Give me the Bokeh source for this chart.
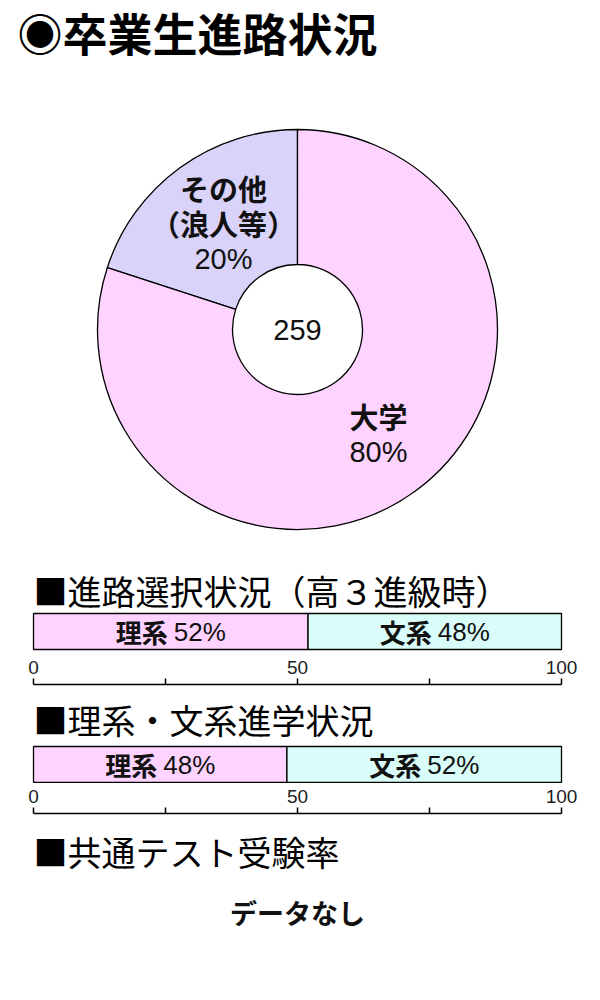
import numpy as np
from bokeh.core.properties import value
from bokeh.embed import file_html
from bokeh.layouts import column
from bokeh.models import FixedTicker, LinearAxis, Range1d
from bokeh.plotting import figure
from bokeh.resources import INLINE

# texty
title = "◉卒業生進路状況"
heading_choice = "■進路選択状況（高３進級時）"
heading_entry = "■理系・文系進学状況"
heading_test = "■共通テスト受験率"
no_data = "データなし"

# kruhový graf: počet absolventů a podíly
total_students = 259
course_labels = ["その他\n（浪人等）", "大学"]
course_share = [20, 80]
course_colors = ["#D9D3F9", "#FFD3FF"]

# pruhové grafy: podíly 理系 / 文系
track_names = ["理系", "文系"]
track_colors = ["#FFD3FF", "#D9FDF8"]
choice_share = [52, 48]
entry_share = [48, 52]

axis_ticks = [0, 25, 50, 75, 100]
axis_hidden = {25: "", 75: ""}

FONT_JP = value("Noto Sans CJK JP")
FONT_NUM = value("Liberation Sans")

W = 584
K = 5.28            # pixely na 1 %
X0 = -33 / K
x_range = Range1d(X0, X0 + W / K)


def px(x):
    # pixel v okně -> hodnota na ose x
    return X0 + x / K


def make_fig(height, top):
    p = figure(width=W, height=height, x_range=x_range,
               y_range=Range1d(height - top, 0),
               x_axis_location=None, y_axis_location=None,
               toolbar_location=None, output_backend="svg",
               min_border=0, min_border_top=top)
    p.outline_line_color = None
    p.grid.visible = False
    return p


def add_axis(p):
    ax = LinearAxis(ticker=FixedTicker(ticks=axis_ticks),
                    major_label_overrides=axis_hidden, bounds=(0, 100))
    ax.major_tick_in = 0
    ax.major_tick_out = 6
    ax.minor_tick_in = 0
    ax.minor_tick_out = 0
    ax.axis_line_width = 1.5
    ax.major_tick_line_width = 1.5
    ax.major_label_standoff = 5
    ax.major_label_text_font = "Liberation Sans"
    ax.major_label_text_font_size = "19px"
    ax.major_label_text_color = "#222222"
    p.add_layout(ax, "above")


def add_bar(p, shares, y_mid):
    shares = np.array(shares)
    right = np.cumsum(shares)
    left = right - shares
    mid = (left + right) / 2
    p.hbar(y=y_mid, left=left, right=right, height=36,
           fill_color=track_colors, line_color="black", line_width=1.3)
    p.text(x=mid - 3 / K, y=y_mid, text=track_names,
           text_font=FONT_JP, text_font_style="bold",
           text_font_size="26px", text_align="right",
           text_baseline="middle", text_color="#111111")
    p.text(x=mid + 3 / K, y=y_mid, text=[f"{s}%" for s in shares],
           text_font=FONT_NUM, text_font_size="26px", text_align="left",
           text_baseline="middle", text_color="#111111")


# --- titulek, kruhový graf a první pruh
p1 = make_fig(654, 0)
p1.text(x=[px(17)], y=[32], text=[title], text_font=FONT_JP,
        text_font_style="bold", text_font_size="45px",
        text_baseline="middle", text_color="black")

cy = 329
share = np.array(course_share)
ends = np.pi / 2 + 2 * np.pi * np.cumsum(share) / share.sum()
starts = ends - 2 * np.pi * share / share.sum()
p1.annular_wedge(x=50, y=cy, inner_radius=65, outer_radius=200,
                 inner_radius_units="screen", outer_radius_units="screen",
                 start_angle=starts, end_angle=ends, direction="anticlock",
                 fill_color=course_colors, line_color="black", line_width=1.3)

# popisky výsečí: název nad, procenta pod
label_x = [px(223), px(378)]
name_y = [205, 415]
pct_y = [258, 451]
p1.text(x=label_x, y=name_y, text=course_labels, text_font=FONT_JP,
        text_font_style="bold", text_font_size="29px", text_align="center",
        text_baseline="middle", text_line_height=0.84, text_color="#111111")
p1.text(x=label_x, y=pct_y, text=[f"{s}%" for s in course_share],
        text_font=FONT_NUM, text_font_size="29px", text_align="center",
        text_baseline="middle", text_color="#111111")
p1.text(x=[50], y=[cy], text=[str(total_students)], text_font=FONT_NUM,
        text_font_size="29px", text_align="center", text_baseline="middle",
        text_color="#111111")

p1.text(x=[0], y=[590], text=[heading_choice], text_font=FONT_JP,
        text_font_size="34px", text_baseline="middle", text_color="black")
add_bar(p1, choice_share, 631)

# --- osa prvního pruhu, druhý pruh
p2 = make_fig(129, 30)
add_axis(p2)
p2.text(x=[0], y=[35], text=[heading_entry], text_font=FONT_JP,
        text_font_size="34px", text_baseline="middle", text_color="black")
add_bar(p2, entry_share, 80)

# --- osa druhého pruhu, 共通テスト
p3 = make_fig(209, 30)
add_axis(p3)
p3.text(x=[0], y=[38], text=[heading_test], text_font=FONT_JP,
        text_font_size="34px", text_baseline="middle", text_color="black")
p3.text(x=[50], y=[99], text=[no_data], text_font=FONT_JP,
        text_font_style="bold", text_font_size="27px", text_align="center",
        text_baseline="middle", text_color="#111111")

layout = column(p1, p2, p3, spacing=0)
open("out.html", "w").write(file_html(layout, INLINE))
